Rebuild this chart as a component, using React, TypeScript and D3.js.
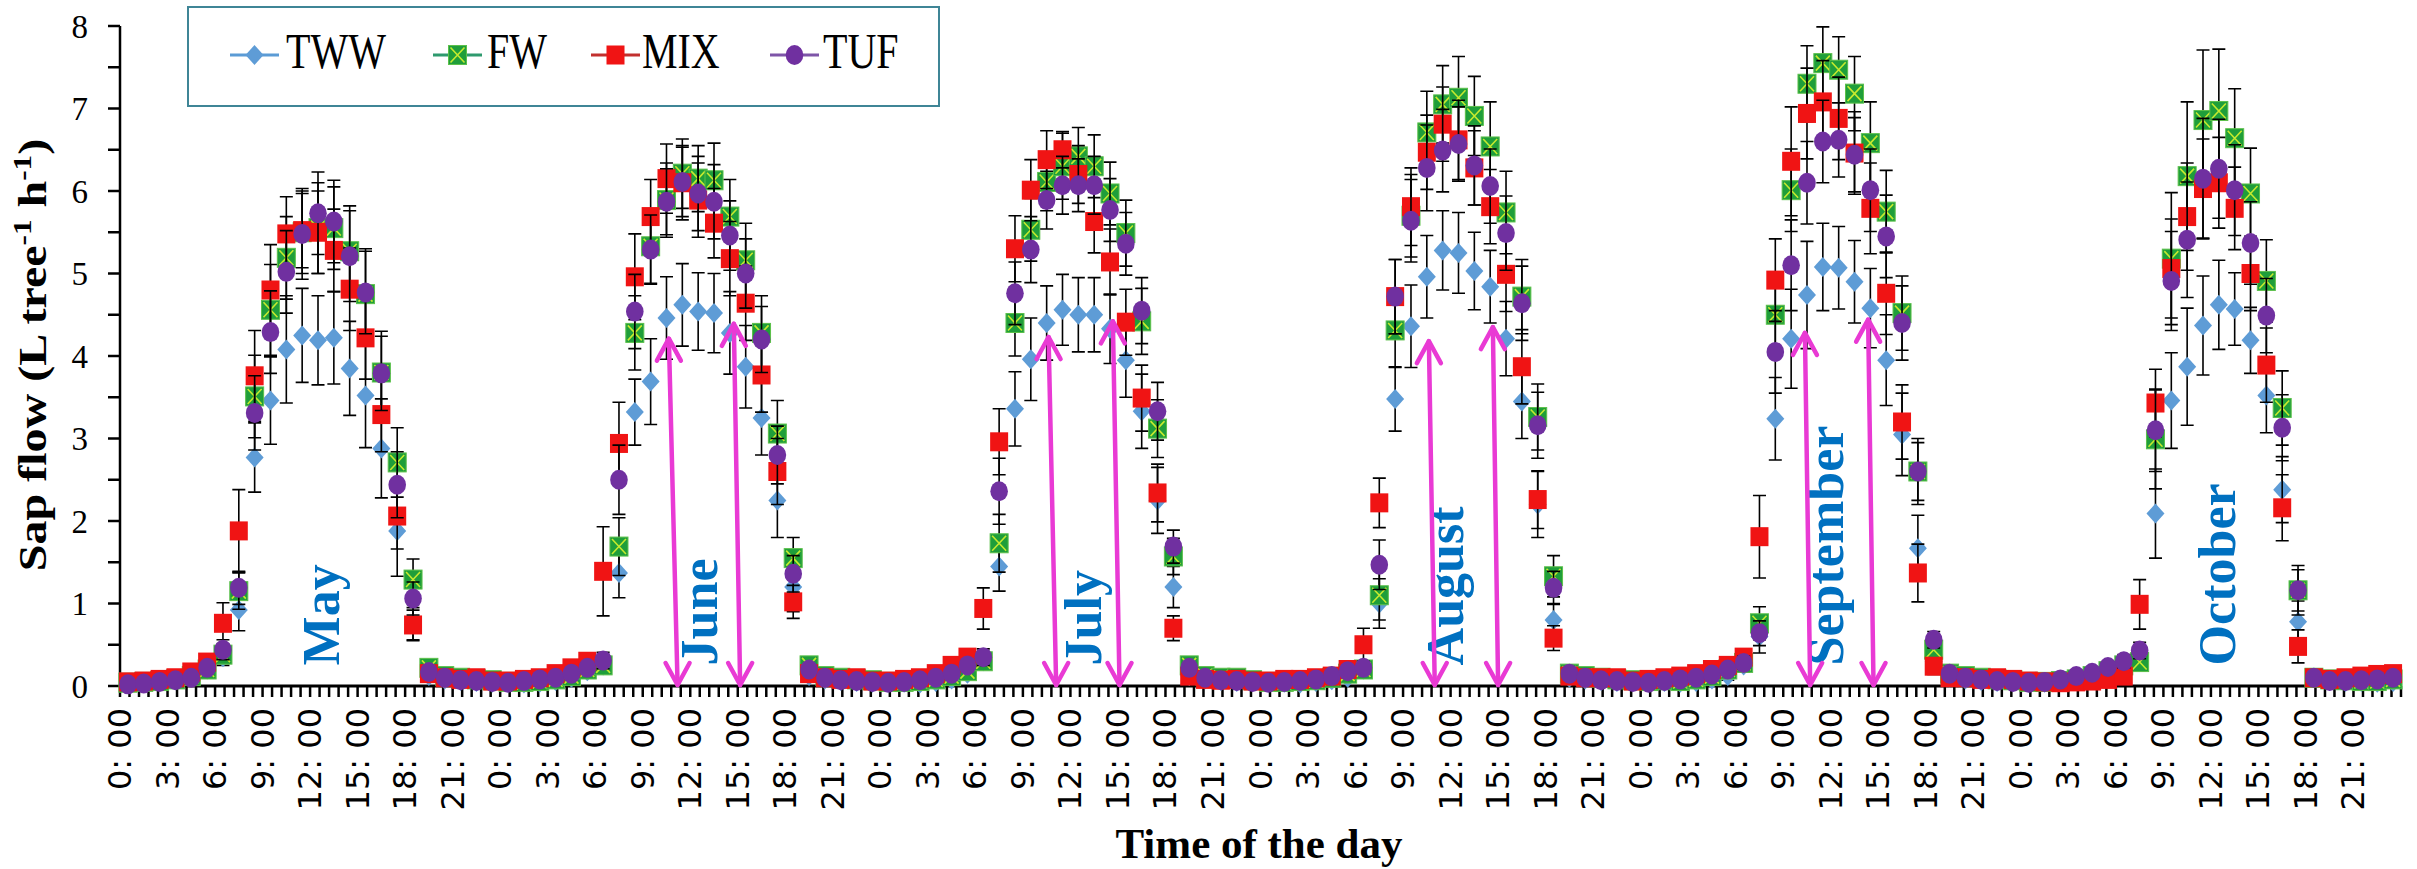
import React from 'react';
import * as d3 from 'd3';

// Hourly mean sap flow (L tree-1 h-1), one row of 24 hours per month (May..October)
const months = ['May', 'June', 'July', 'August', 'September', 'October'];

const twwMean = [
  0.03, 0.04, 0.05, 0.07, 0.12, 0.2, 0.35, 0.92, 2.77, 3.46, 4.08, 4.25, 4.19, 4.22, 3.85, 3.52, 2.88, 1.88, 0.75, 0.12, 0.08, 0.06, 0.05, 0.04,
  0.04, 0.03, 0.04, 0.06, 0.1, 0.18, 0.25, 1.37, 3.32, 3.69, 4.46, 4.62, 4.54, 4.52, 4.28, 3.87, 3.25, 2.25, 1.2, 0.12, 0.08, 0.06, 0.05, 0.04,
  0.04, 0.04, 0.03, 0.05, 0.08, 0.15, 0.3, 1.45, 3.36, 3.96, 4.4, 4.56, 4.5, 4.5, 4.33, 3.95, 3.33, 2.25, 1.2, 0.12, 0.08, 0.06, 0.05, 0.05,
  0.04, 0.04, 0.03, 0.05, 0.07, 0.1, 0.2, 1.0, 3.48, 4.36, 4.96, 5.28, 5.25, 5.03, 4.84, 4.21, 3.45, 2.2, 0.8, 0.1, 0.08, 0.06, 0.05, 0.05,
  0.04, 0.05, 0.04, 0.05, 0.08, 0.12, 0.25, 0.6, 3.24, 4.21, 4.74, 5.08, 5.07, 4.9, 4.58, 3.95, 3.05, 1.67, 0.3, 0.1, 0.08, 0.06, 0.05, 0.05,
  0.04, 0.04, 0.05, 0.07, 0.1, 0.15, 0.25, 0.3, 2.09, 3.46, 3.87, 4.37, 4.62, 4.57, 4.19, 3.52, 2.38, 0.78, 0.1, 0.06, 0.05, 0.05, 0.04, 0.05,
];

const fwMean = [
  0.04, 0.05, 0.06, 0.08, 0.12, 0.2, 0.38, 1.15, 3.51, 4.56, 5.19, 5.5, 5.55, 5.55, 5.27, 4.75, 3.8, 2.71, 1.29, 0.22, 0.12, 0.1, 0.08, 0.07,
  0.05, 0.05, 0.06, 0.08, 0.12, 0.2, 0.25, 1.69, 4.28, 5.33, 5.89, 6.21, 6.15, 6.13, 5.69, 5.16, 4.28, 3.06, 1.55, 0.25, 0.12, 0.1, 0.08, 0.07,
  0.05, 0.05, 0.06, 0.08, 0.12, 0.18, 0.3, 1.73, 4.4, 5.53, 6.11, 6.3, 6.42, 6.3, 5.97, 5.49, 4.42, 3.12, 1.57, 0.25, 0.12, 0.1, 0.1, 0.07,
  0.05, 0.05, 0.06, 0.07, 0.1, 0.15, 0.2, 1.1, 4.31, 5.7, 6.71, 7.05, 7.13, 6.91, 6.54, 5.74, 4.72, 3.26, 1.33, 0.15, 0.12, 0.1, 0.08, 0.07,
  0.06, 0.07, 0.06, 0.08, 0.12, 0.2, 0.28, 0.76, 4.5, 6.01, 7.3, 7.55, 7.47, 7.18, 6.58, 5.75, 4.52, 2.6, 0.44, 0.15, 0.12, 0.1, 0.08, 0.07,
  0.05, 0.05, 0.06, 0.08, 0.12, 0.18, 0.25, 0.29, 2.99, 5.18, 6.18, 6.86, 6.97, 6.64, 5.97, 4.91, 3.37, 1.16, 0.1, 0.08, 0.07, 0.06, 0.06, 0.08,
];

const mixMean = [
  0.05, 0.06, 0.08, 0.1, 0.17, 0.29, 0.76, 1.88, 3.76, 4.8, 5.48, 5.52, 5.5, 5.28, 4.81, 4.22, 3.29, 2.06, 0.74, 0.15, 0.1, 0.08, 0.1, 0.06,
  0.06, 0.08, 0.1, 0.15, 0.22, 0.3, 1.39, 2.94, 4.96, 5.69, 6.15, 6.1, 5.89, 5.61, 5.18, 4.64, 3.77, 2.6, 1.02, 0.15, 0.1, 0.08, 0.1, 0.06,
  0.06, 0.08, 0.1, 0.15, 0.25, 0.35, 0.94, 2.96, 5.3, 6.01, 6.38, 6.5, 6.2, 5.63, 5.14, 4.41, 3.49, 2.34, 0.7, 0.12, 0.08, 0.07, 0.08, 0.06,
  0.06, 0.08, 0.08, 0.1, 0.12, 0.2, 0.5, 2.22, 4.72, 5.81, 6.47, 6.81, 6.62, 6.28, 5.81, 4.99, 3.87, 2.26, 0.58, 0.12, 0.1, 0.1, 0.1, 0.06,
  0.08, 0.1, 0.12, 0.15, 0.2, 0.25, 0.35, 1.81, 4.92, 6.36, 6.94, 7.08, 6.88, 6.46, 5.79, 4.76, 3.2, 1.37, 0.24, 0.1, 0.1, 0.08, 0.1, 0.08,
  0.06, 0.05, 0.04, 0.05, 0.06, 0.08, 0.12, 0.99, 3.43, 5.06, 5.69, 6.03, 6.1, 5.79, 5.0, 3.89, 2.16, 0.48, 0.1, 0.08, 0.1, 0.12, 0.14, 0.15,
];

const tufMean = [
  0.02, 0.03, 0.05, 0.07, 0.1, 0.22, 0.44, 1.19, 3.31, 4.29, 5.02, 5.48, 5.73, 5.63, 5.21, 4.77, 3.79, 2.44, 1.06, 0.17, 0.1, 0.07, 0.06, 0.05,
  0.04, 0.06, 0.08, 0.1, 0.15, 0.22, 0.31, 2.5, 4.54, 5.29, 5.87, 6.11, 5.97, 5.87, 5.46, 5.0, 4.2, 2.8, 1.36, 0.2, 0.1, 0.07, 0.06, 0.05,
  0.04, 0.05, 0.07, 0.1, 0.15, 0.25, 0.35, 2.36, 4.76, 5.29, 5.89, 6.07, 6.07, 6.07, 5.77, 5.36, 4.55, 3.33, 1.69, 0.22, 0.1, 0.07, 0.06, 0.05,
  0.04, 0.05, 0.06, 0.08, 0.12, 0.18, 0.22, 1.47, 4.72, 5.64, 6.28, 6.49, 6.57, 6.31, 6.06, 5.49, 4.64, 3.16, 1.19, 0.15, 0.1, 0.07, 0.06, 0.05,
  0.04, 0.06, 0.08, 0.1, 0.14, 0.2, 0.28, 0.64, 4.05, 5.1, 6.1, 6.6, 6.62, 6.44, 6.01, 5.45, 4.4, 2.6, 0.56, 0.15, 0.1, 0.08, 0.06, 0.05,
  0.04, 0.05, 0.08, 0.12, 0.16, 0.23, 0.3, 0.43, 3.1, 4.91, 5.41, 6.15, 6.27, 6.01, 5.37, 4.49, 3.13, 1.16, 0.1, 0.06, 0.06, 0.07, 0.08, 0.1,
];

// Standard deviations for the error bars
const twwSd = [
  0.02, 0.02, 0.02, 0.03, 0.04, 0.06, 0.1, 0.25, 0.42, 0.53, 0.65, 0.57, 0.54, 0.56, 0.57, 0.63, 0.6, 0.55, 0.2, 0.04, 0.03, 0.02, 0.02, 0.02,
  0.02, 0.02, 0.02, 0.03, 0.04, 0.05, 0.08, 0.3, 0.4, 0.52, 0.5, 0.5, 0.47, 0.48, 0.5, 0.5, 0.45, 0.45, 0.3, 0.04, 0.03, 0.02, 0.02, 0.02,
  0.02, 0.02, 0.02, 0.03, 0.04, 0.05, 0.08, 0.3, 0.45, 0.5, 0.45, 0.43, 0.45, 0.45, 0.42, 0.45, 0.45, 0.4, 0.25, 0.04, 0.03, 0.02, 0.02, 0.02,
  0.02, 0.02, 0.02, 0.03, 0.03, 0.04, 0.06, 0.3, 0.39, 0.5, 0.5, 0.48, 0.49, 0.47, 0.44, 0.45, 0.45, 0.4, 0.2, 0.04, 0.03, 0.02, 0.02, 0.02,
  0.02, 0.02, 0.02, 0.03, 0.04, 0.05, 0.08, 0.2, 0.5, 0.6, 0.65, 0.53, 0.5, 0.5, 0.48, 0.55, 0.5, 0.4, 0.1, 0.04, 0.03, 0.02, 0.02, 0.02,
  0.02, 0.02, 0.02, 0.03, 0.04, 0.05, 0.07, 0.1, 0.54, 0.58, 0.71, 0.6, 0.54, 0.44, 0.4, 0.45, 0.4, 0.25, 0.04, 0.03, 0.02, 0.02, 0.02, 0.02,
];

const fwSd = [
  0.02, 0.02, 0.03, 0.03, 0.04, 0.06, 0.1, 0.22, 0.5, 0.55, 0.5, 0.5, 0.55, 0.5, 0.55, 0.55, 0.5, 0.42, 0.25, 0.05, 0.03, 0.03, 0.02, 0.02,
  0.02, 0.02, 0.03, 0.03, 0.04, 0.06, 0.08, 0.35, 0.45, 0.45, 0.45, 0.42, 0.4, 0.45, 0.45, 0.45, 0.45, 0.4, 0.25, 0.05, 0.03, 0.03, 0.02, 0.02,
  0.02, 0.02, 0.03, 0.03, 0.04, 0.06, 0.08, 0.35, 0.4, 0.38, 0.35, 0.4, 0.35, 0.38, 0.38, 0.4, 0.4, 0.35, 0.22, 0.05, 0.03, 0.03, 0.02, 0.02,
  0.02, 0.02, 0.03, 0.03, 0.04, 0.05, 0.06, 0.3, 0.45, 0.5, 0.5, 0.47, 0.5, 0.48, 0.54, 0.5, 0.45, 0.4, 0.25, 0.04, 0.03, 0.03, 0.02, 0.02,
  0.02, 0.02, 0.03, 0.03, 0.04, 0.06, 0.08, 0.2, 0.5, 0.5, 0.46, 0.44, 0.4, 0.45, 0.5, 0.5, 0.45, 0.4, 0.15, 0.04, 0.03, 0.03, 0.02, 0.02,
  0.02, 0.02, 0.03, 0.03, 0.04, 0.05, 0.07, 0.1, 0.6, 0.8, 0.9, 0.85, 0.75, 0.6, 0.55, 0.5, 0.45, 0.3, 0.04, 0.03, 0.03, 0.02, 0.02, 0.02,
];

const mixSd = [
  0.02, 0.03, 0.03, 0.04, 0.05, 0.07, 0.25, 0.5, 0.55, 0.55, 0.45, 0.45, 0.5, 0.5, 0.5, 0.5, 0.45, 0.4, 0.18, 0.04, 0.03, 0.03, 0.03, 0.02,
  0.02, 0.03, 0.03, 0.04, 0.05, 0.08, 0.54, 0.5, 0.52, 0.45, 0.42, 0.45, 0.45, 0.42, 0.45, 0.45, 0.45, 0.4, 0.2, 0.04, 0.03, 0.03, 0.03, 0.02,
  0.02, 0.03, 0.03, 0.04, 0.05, 0.08, 0.25, 0.4, 0.4, 0.37, 0.35, 0.22, 0.35, 0.38, 0.4, 0.4, 0.4, 0.35, 0.15, 0.04, 0.03, 0.03, 0.03, 0.02,
  0.02, 0.03, 0.03, 0.04, 0.05, 0.06, 0.2, 0.3, 0.45, 0.47, 0.45, 0.45, 0.48, 0.45, 0.45, 0.45, 0.45, 0.35, 0.15, 0.04, 0.03, 0.03, 0.03, 0.02,
  0.02, 0.03, 0.03, 0.04, 0.05, 0.06, 0.1, 0.5, 0.5, 0.66, 0.55, 0.5, 0.5, 0.5, 0.55, 0.5, 0.45, 0.35, 0.1, 0.04, 0.03, 0.03, 0.03, 0.02,
  0.02, 0.03, 0.03, 0.04, 0.05, 0.06, 0.06, 0.3, 0.41, 0.6, 0.65, 0.6, 0.55, 0.5, 0.45, 0.45, 0.4, 0.2, 0.04, 0.03, 0.03, 0.03, 0.03, 0.02,
];

const tufSd = [
  0.02, 0.02, 0.02, 0.03, 0.04, 0.06, 0.12, 0.2, 0.45, 0.5, 0.5, 0.55, 0.5, 0.5, 0.55, 0.5, 0.45, 0.4, 0.2, 0.04, 0.03, 0.02, 0.02, 0.02,
  0.02, 0.02, 0.02, 0.03, 0.04, 0.06, 0.1, 0.42, 0.45, 0.42, 0.4, 0.42, 0.45, 0.45, 0.42, 0.42, 0.4, 0.35, 0.22, 0.04, 0.03, 0.02, 0.02, 0.02,
  0.02, 0.02, 0.02, 0.03, 0.04, 0.06, 0.1, 0.4, 0.38, 0.4, 0.35, 0.35, 0.32, 0.35, 0.38, 0.38, 0.4, 0.35, 0.2, 0.04, 0.03, 0.02, 0.02, 0.02,
  0.02, 0.02, 0.02, 0.03, 0.04, 0.05, 0.06, 0.3, 0.45, 0.5, 0.52, 0.5, 0.45, 0.48, 0.45, 0.45, 0.45, 0.4, 0.2, 0.04, 0.03, 0.02, 0.02, 0.02,
  0.02, 0.02, 0.02, 0.03, 0.04, 0.05, 0.08, 0.15, 0.5, 0.55, 0.5, 0.5, 0.45, 0.45, 0.5, 0.5, 0.45, 0.35, 0.1, 0.04, 0.03, 0.02, 0.02, 0.02,
  0.02, 0.02, 0.03, 0.04, 0.05, 0.06, 0.08, 0.1, 0.5, 0.6, 0.7, 0.73, 0.6, 0.55, 0.5, 0.45, 0.4, 0.25, 0.04, 0.03, 0.03, 0.02, 0.02, 0.02,
];

const yTickLabels = [0, 1, 2, 3, 4, 5, 6, 7, 8];
const labelHours = [0, 3, 6, 9, 12, 15, 18, 21];

// Double-headed arrows: month index, hour at top / bottom, value at top tip
const arrowMonths = [1, 1, 2, 2, 3, 3, 4, 4];
const arrowHourTop = [10.15, 14.25, 10.12, 14.18, 10.13, 14.17, 9.87, 13.86];
const arrowHourBottom = [10.7, 14.65, 10.6, 14.6, 10.5, 14.5, 10.2, 14.2];
const arrowTopValue = [4.21, 4.39, 4.23, 4.42, 4.18, 4.35, 4.28, 4.44];

// Month captions: hour of the text baseline within each day
const monthCaptionHour = [13.3, 13.2, 13.4, 12.3, 12.3, 13.0];

type Shape = 'diamond' | 'xsquare' | 'square' | 'circle';

const series: { name: string; mean: number[]; sd: number[]; shape: Shape; fill: string; line: string }[] = [
  { name: 'TWW', mean: twwMean, sd: twwSd, shape: 'diamond', fill: '#5E9CD6', line: '#5B9BD5' },
  { name: 'FW', mean: fwMean, sd: fwSd, shape: 'xsquare', fill: '#1F9E3A', line: '#2E9A6E' },
  { name: 'MIX', mean: mixMean, sd: mixSd, shape: 'square', fill: '#F01414', line: '#C2302E' },
  { name: 'TUF', mean: tufMean, sd: tufSd, shape: 'circle', fill: '#7030A0', line: '#7E55A8' },
];

function Marker({ shape, fill, cx, cy }: { shape: Shape; fill: string; cx: number; cy: number }) {
  if (shape === 'diamond') {
    return <path d={`M${cx},${cy - 10} L${cx + 9},${cy} L${cx},${cy + 10} L${cx - 9},${cy} Z`} fill={fill} />;
  }
  if (shape === 'square') {
    return <rect x={cx - 9} y={cy - 9.5} width={18} height={19} fill={fill} />;
  }
  if (shape === 'xsquare') {
    return (
      <g>
        <rect x={cx - 9} y={cy - 9.5} width={18} height={19} fill={fill} stroke="#5CC04A" strokeWidth={1} />
        <path
          d={`M${cx - 7},${cy - 7.5} L${cx + 7},${cy + 7.5} M${cx + 7},${cy - 7.5} L${cx - 7},${cy + 7.5}`}
          stroke="#C6EA2E"
          strokeWidth={1.6}
        />
      </g>
    );
  }
  return <ellipse cx={cx} cy={cy} rx={8.8} ry={10} fill={fill} />;
}

export default function App() {
  const nDays = months.length;
  const n = nDays * 24;
  const x = d3.scaleLinear().domain([-0.5, n - 0.5]).range([120, 2401]);
  const y = d3.scaleLinear().domain([0, 8]).range([686, 26]);

  const xTicks = d3.range(-0.5, n - 0.5 + 1e-6, 0.6);
  const yTicks = d3.range(0, 8 + 1e-6, 0.5);
  const idx = d3.range(n);
  const capHalf = 6.5;

  const axisLabels: { i: number; text: string }[] = [];
  for (let d = 0; d < nDays; d++) {
    for (const h of labelHours) axisLabels.push({ i: d * 24 + h, text: `${h}: 00` });
  }

  const serif = "'Liberation Serif', 'Times New Roman', serif";

  return (
    <svg
      width={2417}
      height={869}
      style={{ position: 'absolute', left: 0, top: 0, background: '#ffffff' }}
      fontFamily={serif}
    >
      <rect x={0} y={0} width={2417} height={869} fill="#ffffff" />

      {/* y axis */}
      <line x1={120} y1={y(8)} x2={120} y2={y(0)} stroke="#000" strokeWidth={2.5} />
      {yTicks.map((t) => (
        <line key={`yt${t}`} x1={108} x2={120} y1={y(t)} y2={y(t)} stroke="#000" strokeWidth={2.5} />
      ))}
      {yTickLabels.map((t) => (
        <text key={`yl${t}`} x={88} y={y(t)} dy="0.35em" textAnchor="end" fontSize={33} fill="#000">
          {t}
        </text>
      ))}
      <text
        transform={`translate(46,355) scale(1,1.2) rotate(-90)`}
        textAnchor="middle"
        fontSize={40}
        fontWeight="bold"
        fill="#000"
      >
        <tspan>Sap flow (L tree</tspan>
        <tspan dy={-15} fontSize={26}>-1</tspan>
        <tspan dy={15}> h</tspan>
        <tspan dy={-15} fontSize={26}>-1</tspan>
        <tspan dy={15}>)</tspan>
      </text>

      {/* x axis */}
      <line x1={120} y1={y(0)} x2={2401} y2={y(0)} stroke="#000" strokeWidth={3} />
      {xTicks.map((t, k) => (
        <line key={`xt${k}`} x1={x(t)} x2={x(t)} y1={y(0)} y2={y(0) + 11} stroke="#000" strokeWidth={2.5} />
      ))}
      {axisLabels.map((l) => (
        <text
          key={`xl${l.i}`}
          transform={`translate(${x(l.i - 0.5)},708) rotate(-90)`}
          textAnchor="end"
          dominantBaseline="central"
          fontFamily="'DejaVu Sans', Verdana, sans-serif"
          fontSize={32}
          fill="#000"
        >
          {l.text}
        </text>
      ))}
      <text x={1259} y={858} textAnchor="middle" fontSize={43} fontWeight="bold" fill="#000">
        Time of the day
      </text>

      {/* series: error bars then markers */}
      {series.map((s) => (
        <g key={s.name}>
          {idx.map((i) => {
            const cx = x(i);
            const lo = y(Math.max(0, s.mean[i] - s.sd[i]));
            const hi = y(s.mean[i] + s.sd[i]);
            return (
              <path
                key={`e${i}`}
                d={`M${cx},${lo} L${cx},${hi} M${cx - capHalf},${hi} L${cx + capHalf},${hi} M${cx - capHalf},${lo} L${cx + capHalf},${lo}`}
                stroke="#000"
                strokeWidth={1.6}
                fill="none"
              />
            );
          })}
          {idx.map((i) => (
            <Marker key={`m${i}`} shape={s.shape} fill={s.fill} cx={x(i)} cy={y(s.mean[i])} />
          ))}
        </g>
      ))}

      {/* month captions */}
      {months.map((m, d) => (
        <text
          key={m}
          transform={`translate(${x(d * 24 + monthCaptionHour[d])},${y(0.25)}) rotate(-90)`}
          textAnchor="start"
          fontSize={52}
          fontWeight="bold"
          fill="#0070C0"
        >
          {m}
        </text>
      ))}

      {/* double-headed arrows */}
      {arrowMonths.map((d, k) => {
        const xt = x(d * 24 + arrowHourTop[k]);
        const yt = y(arrowTopValue[k]);
        const xb = x(d * 24 + arrowHourBottom[k]);
        const yb = y(0) - 1;
        return (
          <g key={`a${k}`} stroke="#E93AD4" strokeWidth={4.5} fill="none" strokeLinecap="round" strokeLinejoin="round">
            <line x1={xt} y1={yt} x2={xb} y2={yb} />
            <path d={`M${xt - 12},${yt + 22} L${xt},${yt} L${xt + 12},${yt + 22}`} />
            <path d={`M${xb - 12},${yb - 22} L${xb},${yb} L${xb + 12},${yb - 22}`} />
          </g>
        );
      })}

      {/* legend */}
      <rect x={188} y={7} width={751} height={99} fill="#ffffff" stroke="#3F8596" strokeWidth={2} />
      {series.map((s, k) => {
        const lineX = [230, 433, 591, 770][k];
        const textX = [286, 487, 642, 823][k];
        const cy = 55;
        return (
          <g key={`lg${s.name}`}>
            <line x1={lineX} x2={lineX + 49} y1={cy} y2={cy} stroke={s.line} strokeWidth={3} />
            <Marker shape={s.shape} fill={s.fill} cx={lineX + 24.5} cy={cy} />
            <text transform={`translate(${textX},68) scale(0.8,1)`} fontSize={50} fill="#000">
              {s.name}
            </text>
          </g>
        );
      })}
    </svg>
  );
}
